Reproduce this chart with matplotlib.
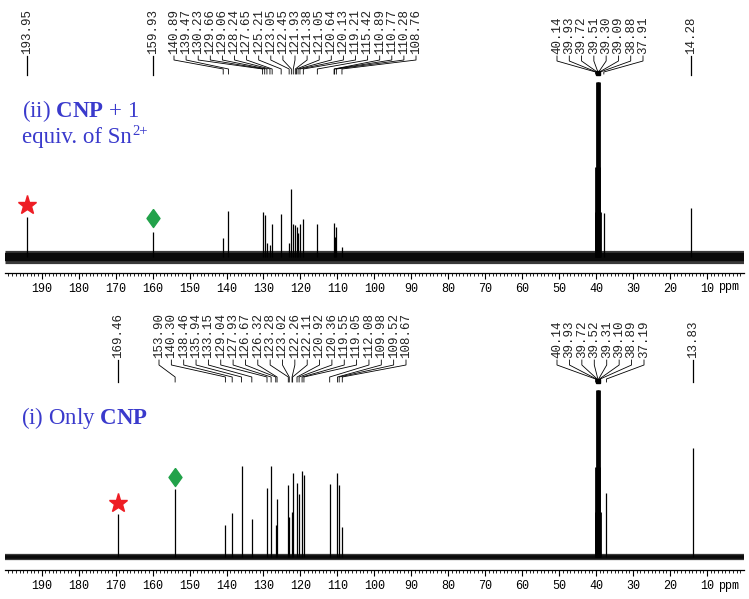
import numpy as np
import matplotlib
matplotlib.use("Agg")
import matplotlib.pyplot as plt
from matplotlib.transforms import IdentityTransform

plt.rcParams['mathtext.fontset'] = 'custom'
plt.rcParams['mathtext.rm'] = 'Liberation Serif'
plt.rcParams['mathtext.bf'] = 'Liberation Serif:bold'

# ---------------- data ----------------
# (ii) CNP + 1 equiv. of Sn2+  (top spectrum)
top_peaks_ppm = [193.95, 159.93, 140.89, 139.47, 130.23, 129.66, 129.06, 128.24, 127.65,
                 125.21, 123.05, 122.45, 121.93, 121.38, 121.05, 120.64, 120.13, 119.21,
                 115.42, 110.89, 110.77, 110.28, 108.76,
                 40.14, 39.93, 39.72, 39.51, 39.30, 39.09, 38.88, 37.91, 14.28]
top_peaks_int = [40, 25, 19, 46, 45, 42, 14, 12, 33,
                 43, 14, 68, 33, 32, 30, 24, 33, 38,
                 33, 34, 20, 30, 10,
                 45, 90, 175, 175, 175, 90, 45, 44, 49]
top_single_labels = [193.95, 159.93, 14.28]
top_group_a = [140.89, 139.47, 130.23, 129.66, 129.06, 128.24, 127.65, 125.21, 123.05,
               122.45, 121.93, 121.38, 121.05, 120.64, 120.13, 119.21, 115.42, 110.89,
               110.77, 110.28, 108.76]
top_group_b = [40.14, 39.93, 39.72, 39.51, 39.30, 39.09, 38.88, 37.91]
top_star = 193.95
top_diamond = 159.93

# (i) Only CNP (bottom spectrum)
bot_peaks_ppm = [169.46, 153.90, 140.30, 138.46, 135.94, 133.15, 129.04, 127.93, 126.67,
                 126.32, 123.28, 123.02, 122.26, 122.11, 120.92, 120.36, 119.55, 119.05,
                 112.08, 109.98, 109.52, 108.67,
                 40.14, 39.93, 39.72, 39.52, 39.31, 39.10, 38.89, 37.19, 13.83]
bot_peaks_int = [43, 68, 32, 44, 91, 38, 69, 91, 32,
                 58, 72, 40, 45, 84, 74, 63, 86, 82,
                 73, 84, 72, 30,
                 45, 90, 167, 167, 167, 90, 45, 64, 109]
bot_single_labels = [169.46, 13.83]
bot_group_a = [153.90, 140.30, 138.46, 135.94, 133.15, 129.04, 127.93, 126.67, 126.32,
               123.28, 123.02, 122.26, 122.11, 120.92, 120.36, 119.55, 119.05, 112.08,
               109.98, 109.52, 108.67]
bot_group_b = [40.14, 39.93, 39.72, 39.52, 39.31, 39.10, 38.89, 37.19]
bot_star = 169.46
bot_diamond = 153.90

major_ticks = [190, 180, 170, 160, 150, 140, 130, 120, 110, 100, 90, 80, 70, 60, 50, 40, 30, 20, 10]
tick_labels = [str(t) for t in major_ticks]

# ---------------- layout ----------------
W, H = 749, 599
X190, PXPPM = 41.7, 3.696


def px2ppm(x):
    return 190 - (x - X190) / PXPPM


fig = plt.figure(figsize=(W / 100, H / 100), dpi=100)

BLUE = '#3a3acc'
MONO = 'Liberation Mono'
SERIF = 'Liberation Serif'

x_left, x_right = 4.7, 744.0


def spectrum_axes(axis_y, base_y, top_y, ppm, inten, halo, core):
    ax = fig.add_axes([x_left / W, (H - axis_y) / H, (x_right - x_left) / W, (axis_y - top_y) / H])
    ax.set_xlim(px2ppm(x_left), px2ppm(x_right))
    ax.set_ylim(-(axis_y - base_y), base_y - top_y)
    ax.plot([200, 0], [0, 0], color='#3a3a3a', lw=halo, solid_capstyle='butt', zorder=1)
    ax.plot([200, 0], [0, 0], color='#0a0a0a', lw=core, solid_capstyle='butt', zorder=2)
    ppm = np.asarray(ppm)
    lws = np.where((ppm > 38.8) & (ppm < 40.2), 2.0, 0.9)
    ax.vlines(ppm, 0, inten, color='black', linewidths=lws, zorder=3)
    for s in ['top', 'left', 'right']:
        ax.spines[s].set_visible(False)
    ax.spines['bottom'].set_linewidth(0.9)
    ax.set_yticks([])
    ax.set_xticks(major_ticks)
    ax.set_xticklabels(tick_labels, family=MONO, fontsize=8.5)
    ax.set_xticks(np.arange(1, 200, 1), minor=True)
    ax.tick_params(axis='x', which='major', direction='out', length=4.5, width=0.8, pad=3)
    ax.tick_params(axis='x', which='minor', direction='out', length=2.0, width=0.6)
    ax.patch.set_alpha(0)
    return ax


ax1 = spectrum_axes(272.7, 257, 75, top_peaks_ppm, top_peaks_int, 9.5, 6)
ax2 = spectrum_axes(570, 557, 385, bot_peaks_ppm, bot_peaks_int, 4.5, 2.6)

# overlay axes in (ppm, pixel-row) coordinates for annotations
ax0 = fig.add_axes([0, 0, 1, 1])
ax0.set_xlim(px2ppm(0), px2ppm(W))
ax0.set_ylim(H, 0)
ax0.axis('off')
ax0.patch.set_alpha(0)


def label(x_ppm, y_bottom, s):
    ax0.text(x_ppm, y_bottom, s, rotation=90, ha='center', va='bottom',
             family=MONO, fontsize=9, color='#222222')


def fmt(v):
    return '%.2f' % v


def single_labels(vals, text_bottom, line_end):
    for v in vals:
        label(v, text_bottom, fmt(v))
        ax0.plot([v, v], [text_bottom + 2, line_end], color='black', lw=0.9)


def group_labels(vals, x0, x1, text_bottom, y_hook, y_diag, y_end, lw=0.6):
    lx = np.linspace(x0, x1, len(vals))
    for v, x in zip(vals, lx):
        xp = px2ppm(x)
        label(xp, text_bottom, fmt(v))
        ax0.plot([xp, xp, v, v], [text_bottom + 2, y_hook, y_diag, y_end], color='black', lw=lw)


# top annotations
single_labels(top_single_labels, 54, 75)
group_labels(top_group_a, 174, 416, 54, 60, 69, 74)
group_labels(top_group_b, 557, 643, 54, 61, 72, 74)
ax0.plot([39.51], [73], marker='s', ms=3.5, color='black')

# bottom annotations
single_labels(bot_single_labels, 358, 382)
group_labels(bot_group_a, 159, 406, 358, 365, 377, 382)
group_labels(bot_group_b, 557, 644, 358, 365, 379, 382)
ax0.plot([39.52], [381], marker='s', ms=3.5, color='black')

# ppm unit labels
ax0.text(px2ppm(729), 287, 'ppm', family=MONO, fontsize=8.5, ha='center', va='center')
ax0.text(px2ppm(729), 586, 'ppm', family=MONO, fontsize=8.5, ha='center', va='center')

# markers
diamond = [(0, 1), (0.72, 0), (0, -1), (-0.72, 0), (0, 1)]
ax0.plot([top_star], [205], marker='*', ms=14, color='#ee1d24', mec='#ee1d24')
ax0.plot([top_diamond], [218], marker=diamond, ms=13, color='#22a24a', mec='#22a24a')
ax0.plot([bot_star], [503], marker='*', ms=14, color='#ee1d24', mec='#ee1d24')
ax0.plot([bot_diamond], [477], marker=diamond, ms=13, color='#22a24a', mec='#22a24a')

# spectrum titles
FS = 16.5
ax0.text(px2ppm(22), 117, r'(ii) $\mathbf{CNP}$ + 1', family=SERIF, fontsize=FS,
         color=BLUE, ha='left', va='baseline')
t2 = ax0.text(px2ppm(22), 143, 'equiv. of Sn', family=SERIF, fontsize=FS,
              color=BLUE, ha='left', va='baseline')
ax0.text(px2ppm(21), 424, r'(i) Only $\mathbf{CNP}$', family=SERIF, fontsize=FS,
         color=BLUE, ha='left', va='baseline')

fig.canvas.draw()
bb = t2.get_window_extent()
ax0.text(bb.x1 + 0.5, (H - 143) + 8, '2+', family=SERIF, fontsize=10.5, color=BLUE,
         ha='left', va='baseline', transform=IdentityTransform())

fig.savefig('out.png', dpi=100)
